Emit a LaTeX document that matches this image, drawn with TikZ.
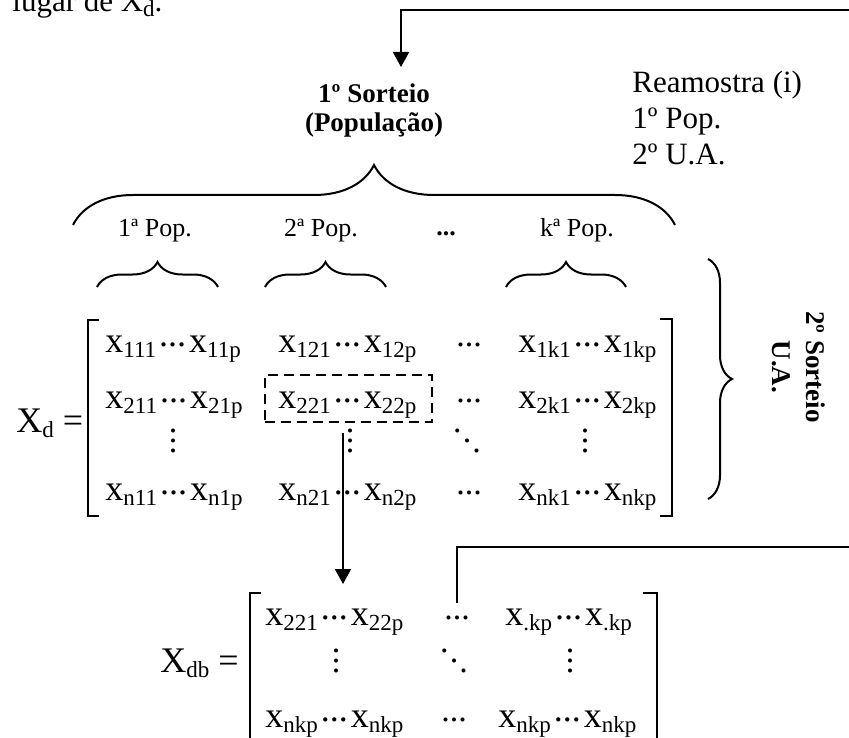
\documentclass[tikz,border=0pt]{standalone}
\usepackage{fontspec}
\setmainfont{Liberation Serif}
\usetikzlibrary{arrows.meta,decorations.pathreplacing,fit}

% pieces of the matrices
\newcommand\lowsub[1]{\raisebox{-2.5pt}{\fontsize{11.5}{12}\selectfont #1}}
\newcommand\xsub[1]{x\lowsub{#1}}
\newcommand\mdots{\kern1.5pt\raisebox{3pt}{...}\kern1.5pt}
\newcommand\xpair[2]{\xsub{#1}\mdots\xsub{#2}}
\newcommand\vdts{\vbox{\baselineskip=5pt\lineskiplimit=0pt\hbox{.}\hbox{.}\hbox{.}}}
\newcommand\ddts{\raisebox{10pt}{.}\kern0.6pt\raisebox{5pt}{.}\kern0.6pt.}

\tikzset{
  txt/.style={font=\fontsize{15.5}{18}\selectfont, inner sep=0pt},
  sorteio/.style={font=\fontsize{13.5}{14.5}\selectfont\bfseries, align=center, inner sep=0pt},
  pop/.style={font=\fontsize{13}{15}\selectfont, inner sep=0pt, anchor=base},
  ent/.style={font=\fontsize{18}{20}\selectfont, inner sep=0pt, anchor=base west},
  dts/.style={font=\fontsize{17}{20}\selectfont, inner sep=0pt, anchor=base},
  vd/.style={font=\fontsize{17}{20}\selectfont, inner sep=0pt},
  brc/.style={decorate, decoration={brace, amplitude=#1}, line width=1pt},
  brk/.style={line width=0.7pt},
  link/.style={line width=1pt},
  tip/.style={-{Triangle[width=8pt,length=7.5pt]}},
  dashbox/.style={draw, dash pattern=on 5pt off 3pt, line width=1.1pt, inner sep=0pt},
}

\begin{document}
\begin{tikzpicture}[x=0.5pt,y=0.5pt]
  \useasboundingbox (0,0) rectangle (849,-737);

  % text cut at the top
  \node[txt, anchor=base west] (lugar) at (12,-12) {lugar de X\lowsub{d}.};

  % first draw
  \node[sorteio] (sort1) at (374,-111) {1º Sorteio\\(População)};
  \node[txt, align=left, anchor=north west] (ream) at (632,-71) {Reamostra (i)\\1º Pop.\\2º U.A.};
  \coordinate (backA) at (855,-10);
  \coordinate (intoA) at (401,-67);
  \draw[link, tip] (backA) -| (intoA);

  % populations
  \draw[brc=30pt] (73,-225) -- (675,-225);
  \node[pop] (pop1) at (155,-237) {1ª Pop.};
  \node[pop] (pop2) at (321,-237) {2ª Pop.};
  \node[pop, font=\fontsize{13}{15}\selectfont\bfseries] (popdots) at (446,-235) {...};
  \node[pop] (popk) at (577,-237) {kª Pop.};
  \draw[brc=12.5pt] (97,-287) -- (218,-287);
  \draw[brc=12.5pt] (265,-287) -- (386,-287);
  \draw[brc=12.5pt] (506,-287) -- (626,-287);

  % second draw
  \draw[brc=12pt] (708,-259) -- (708,-499);
  \node[sorteio, font=\fontsize{13.5}{17}\selectfont\bfseries, rotate=-90] (sort2) at (799,-367) {2º Sorteio\\U.A.};

  % matrix X_d
  \node[ent] (Xd) at (16,-432) {X\lowsub{d} =};
  \draw[brk] (99,-320) -| (88,-516) -- (99,-516);
  \draw[brk] (660,-319) -| (672,-516) -- (660,-516);
  \node[ent] (x11) at (105,-352) {\xpair{111}{11p}};
  \node[ent] (x12) at (278,-352) {\xpair{121}{12p}};
  \node[dts] (x1d) at (469,-352) {\mdots};
  \node[ent] (x1k) at (518,-352) {\xpair{1k1}{1kp}};
  \node[ent] (x21) at (105,-408) {\xpair{211}{21p}};
  \node[ent] (x22) at (278,-408) {\xpair{221}{22p}};
  \node[dts] (x2d) at (469,-408) {\mdots};
  \node[ent] (x2k) at (518,-408) {\xpair{2k1}{2kp}};
  \node[vd] (xv1) at (173,-441) {\vdts};
  \node[vd] (xv2) at (350,-441) {\vdts};
  \node[vd] (xvd) at (467,-441) {\ddts};
  \node[vd] (xvk) at (585,-441) {\vdts};
  \node[ent] (xn1) at (105,-500) {\xpair{n11}{n1p}};
  \node[ent] (xn2) at (278,-500) {\xpair{n21}{n2p}};
  \node[dts] (xnd) at (469,-500) {\mdots};
  \node[ent] (xnk) at (518,-500) {\xpair{nk1}{nkp}};
  \node[dashbox, fit={(265,-375) (432,-422)}] (box22) {};

  % matrix X_db
  \coordinate (drop) at (343,-584);
  \draw[link, tip, shorten <=5pt] (box22.south -| drop) -- (drop);
  \node[ent] (Xdb) at (160,-672) {X\lowsub{db} =};
  \draw[brk] (261,-593) -| (250,-745);
  \draw[brk] (643,-593) -| (657,-745);
  \node[ent] (y11) at (265,-625) {\xpair{221}{22p}};
  \node[dts] (dbdots) at (457,-625) {\mdots};
  \node[ent] (y1k) at (505,-625) {\xpair{.kp}{.kp}};
  \node[vd] (yv1) at (336,-661) {\vdts};
  \node[vd] (yvd) at (454,-661) {\ddts};
  \node[vd] (yvk) at (570,-661) {\vdts};
  \node[ent] (yn1) at (265,-727) {\xpair{nkp}{nkp}};
  \node[dts] (ynd) at (454,-727) {\mdots};
  \node[ent] (ynk) at (498,-727) {\xpair{nkp}{nkp}};
  \coordinate (backB) at (855,-547);
  \draw[link] ([yshift=6pt]dbdots.north) |- (backB);
\end{tikzpicture}
\end{document}
